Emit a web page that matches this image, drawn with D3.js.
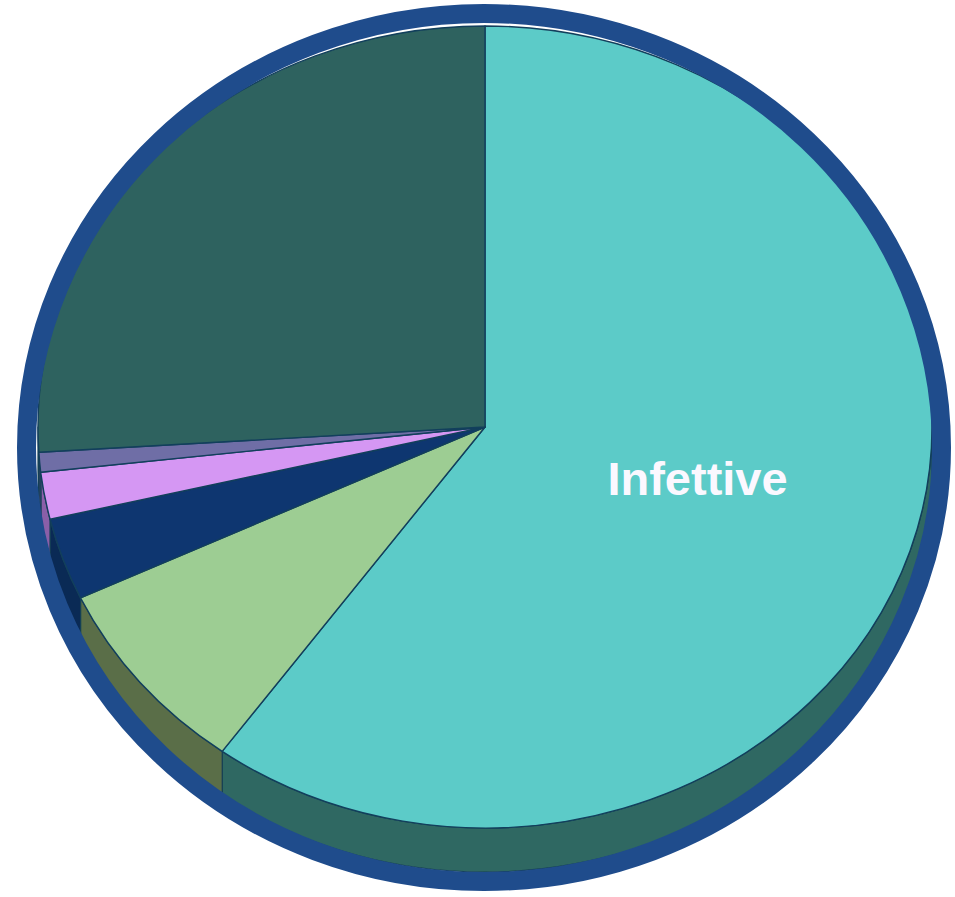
<!DOCTYPE html>
<html>
<head>
<meta charset="utf-8">
<script src="https://cdn.jsdelivr.net/npm/d3@7"></script>
<style>
  html, body { margin: 0; padding: 0; background: #ffffff; }
  svg { display: block; }
</style>
</head>
<body>
<script>
// Slice data, clockwise from 12 o'clock
const categories = ["Infettive", "Categoria B", "Categoria C", "Categoria D", "Categoria E", "Categoria F"];
const values = [60, 8, 3.3, 1.9, 0.8, 26];
const shownLabels = ["Infettive"];

// Face and wall colours per slice
const topColors  = ["#5ccbc8", "#9dcd93", "#0e3670", "#d597f3", "#6f6ea6", "#2e625f"];
const sideColors = ["#2f6862", "#5a6e48", "#0a2a55", "#8a5fa8", "#4a4a78", "#1f4644"];

const W = 955, H = 897;
const cx = 485, cy = 427, rx = 447, ry = 401, depth = 44;

const svg = d3.select("body").append("svg")
  .attr("width", W).attr("height", H);

const pie = d3.pie().sort(null).value(d => d.value);
const slices = pie(categories.map((c, i) => ({ name: c, value: values[i], i })));

const px = a => cx + rx * Math.sin(a);
const py = a => cy - ry * Math.cos(a);

// Side walls: only the front half of the disc is visible
const wallGroup = svg.append("g").attr("class", "walls");
slices.forEach(d => {
  const a0 = Math.max(d.startAngle, Math.PI / 2);
  const a1 = Math.min(d.endAngle, 3 * Math.PI / 2);
  if (a1 <= a0) return;
  const large = (a1 - a0) > Math.PI ? 1 : 0;
  const path = [
    `M${px(a0)},${py(a0)}`,
    `A${rx},${ry} 0 ${large} 1 ${px(a1)},${py(a1)}`,
    `L${px(a1)},${py(a1) + depth}`,
    `A${rx},${ry} 0 ${large} 0 ${px(a0)},${py(a0) + depth}`,
    "Z"
  ].join(" ");
  wallGroup.append("path")
    .attr("d", path)
    .attr("fill", sideColors[d.data.i])
    .attr("stroke", "#143f55")
    .attr("stroke-width", 1.2)
    .attr("stroke-linejoin", "round");
});

// Top faces: unit-circle arcs stretched into the ellipse
const arc = d3.arc().innerRadius(0).outerRadius(1);
svg.append("g")
  .attr("class", "faces")
  .attr("transform", `translate(${cx},${cy}) scale(${rx},${ry})`)
  .selectAll("path")
  .data(slices)
  .join("path")
  .attr("d", arc)
  .attr("fill", d => topColors[d.data.i])
  .attr("stroke", "#123f5c")
  .attr("stroke-width", 1.4)
  .attr("stroke-linejoin", "round")
  .attr("vector-effect", "non-scaling-stroke");

// Blue rim around the whole disc
svg.append("ellipse")
  .attr("cx", 484).attr("cy", 447.5)
  .attr("rx", 457.5).attr("ry", 434)
  .attr("fill", "none")
  .attr("stroke", "#1f4c8c")
  .attr("stroke-width", 19);

// Slice labels
svg.append("g")
  .selectAll("text")
  .data(slices.filter(d => shownLabels.includes(d.data.name)))
  .join("text")
  .attr("x", d => px((d.startAngle + d.endAngle) / 2) * 0.5 + cx * 0.5)
  .attr("y", d => py((d.startAngle + d.endAngle) / 2) * 0.5 + cy * 0.5 + 6)
  .attr("text-anchor", "middle")
  .attr("font-family", "'Liberation Sans', Arial, sans-serif")
  .attr("font-weight", "bold")
  .attr("font-size", 47)
  .attr("fill", "#fbf8ff")
  .text(d => d.data.name);
</script>
</body>
</html>
